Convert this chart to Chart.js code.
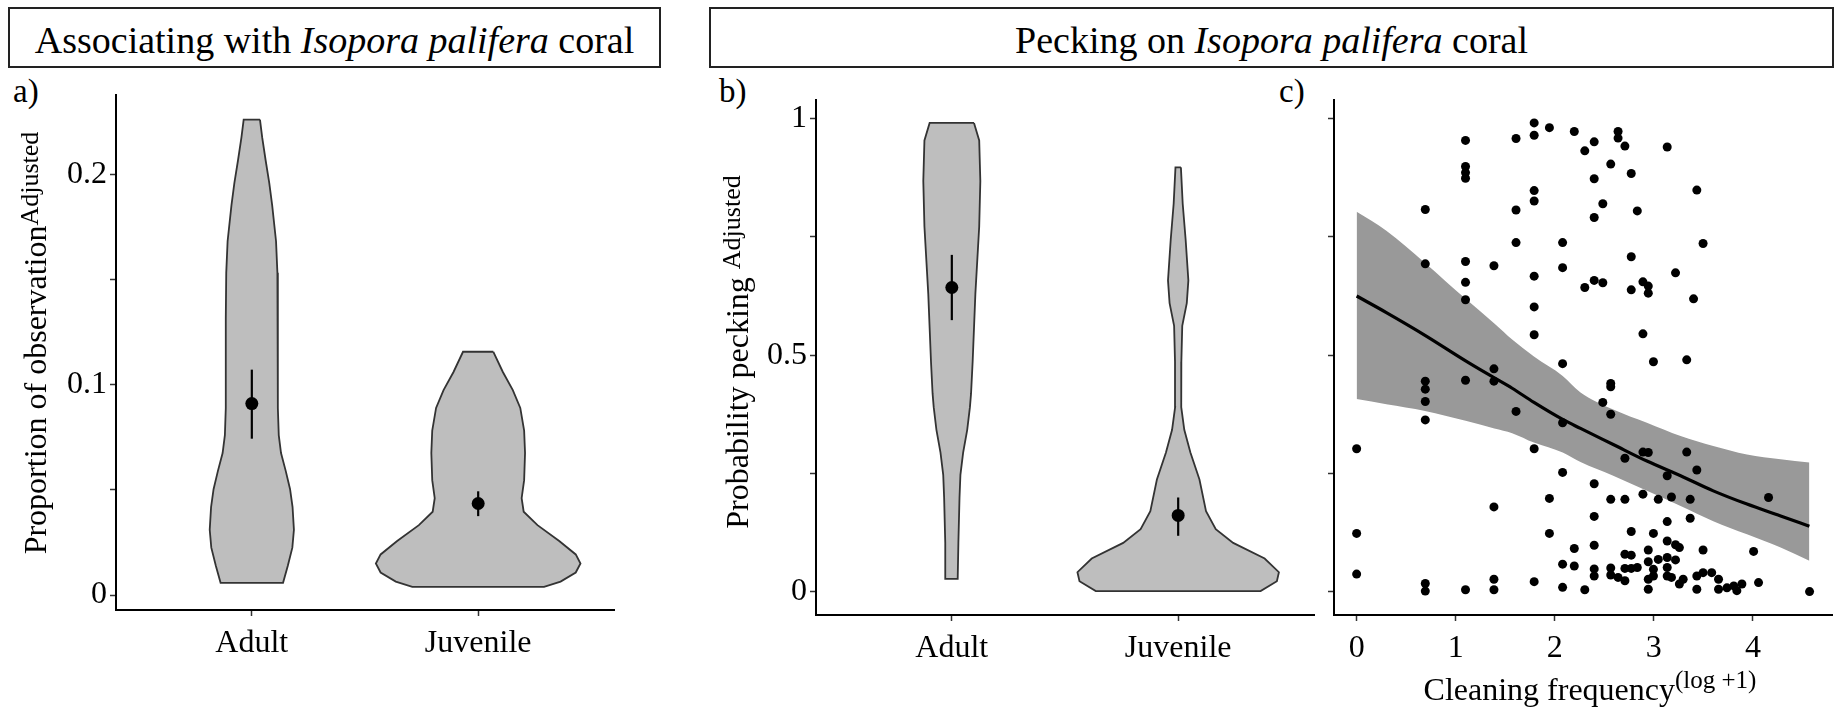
<!DOCTYPE html>
<html><head><meta charset="utf-8">
<script src="https://cdn.jsdelivr.net/npm/chart.js@4.4.1/dist/chart.umd.min.js"></script>
<style>
html,body{margin:0;padding:0;background:#fff;}
#wrap{position:relative;width:1840px;height:710px;overflow:hidden;font-family:"Liberation Serif","Times New Roman",serif;color:#000;}
canvas{position:absolute;top:0;}
.box{position:absolute;border:2px solid #222;box-sizing:border-box;}
.ttl{position:absolute;white-space:nowrap;text-align:center;font-size:38px;line-height:38px;}
.lab{position:absolute;font-size:33px;line-height:33px;white-space:nowrap;}
.yt{position:absolute;white-space:nowrap;text-align:center;font-size:32px;line-height:40px;height:40px;width:460px;transform:rotate(-90deg);}
.xt{position:absolute;white-space:nowrap;text-align:center;font-size:32px;line-height:40px;height:40px;}
.sup{font-size:26px;position:relative;top:-8px;}
.sup2{font-size:25px;position:relative;top:-12px;}
</style></head>
<body>
<div id="wrap">
  <div class="box" style="left:8px;top:7px;width:653px;height:61px;"></div>
  <div class="ttl" style="left:8px;top:21px;width:653px;">Associating with <i>Isopora palifera</i> coral</div>
  <div class="box" style="left:709px;top:7px;width:1125px;height:61px;"></div>
  <div class="ttl" style="left:709px;top:21px;width:1125px;">Pecking on <i>Isopora palifera</i> coral</div>
  <div class="lab" style="left:13px;top:75px;">a)</div>
  <div class="lab" style="left:719px;top:75px;">b)</div>
  <div class="lab" style="left:1279px;top:75px;">c)</div>
  <canvas id="ca" width="680" height="710" style="left:0px"></canvas>
  <canvas id="cb" width="650" height="710" style="left:680px"></canvas>
  <canvas id="cc" width="520" height="710" style="left:1320px"></canvas>
  <div class="yt" style="left:-195px;top:323px;">Proportion of observation<span class="sup">Adjusted</span></div>
  <div class="yt" style="left:507px;top:332px;">Probability pecking <span class="sup">Adjusted</span></div>
  <div class="xt" style="left:1390px;top:669px;width:400px;">Cleaning frequency<span class="sup2">(log +1)</span></div>
</div>
<script>
// ---------- shared ----------
const categories = ['Adult', 'Juvenile'];

// ---------- panel a: associating ----------
const aYTicks = [0, 0.05, 0.1, 0.15, 0.2];
const aYLabels = ['0', '', '0.1', '', '0.2'];
const aAdultY = [0.2259, 0.2173, 0.2066, 0.1959, 0.1852, 0.1681, 0.1531, 0.1317, 0.1103, 0.0889, 0.0760, 0.0675, 0.0589, 0.0503, 0.0418, 0.0310, 0.0225, 0.0139, 0.0058];
const aAdultHalfWidth = [0.036, 0.046, 0.061, 0.077, 0.090, 0.107, 0.113, 0.115, 0.115, 0.115, 0.119, 0.129, 0.150, 0.169, 0.180, 0.186, 0.179, 0.159, 0.138];
const aJuvY = [0.1156, 0.1060, 0.0974, 0.0889, 0.0782, 0.0675, 0.0546, 0.0460, 0.0396, 0.0332, 0.0257, 0.0193, 0.0150, 0.0107, 0.0064, 0.0039];
const aJuvHalfWidth = [0.067, 0.109, 0.153, 0.186, 0.203, 0.207, 0.203, 0.192, 0.201, 0.262, 0.358, 0.431, 0.452, 0.431, 0.364, 0.291];
const aMean = [0.0910, 0.0435];
const aLow = [0.0743, 0.0375];
const aHigh = [0.1071, 0.0493];

// ---------- panel b: pecking by age ----------
const bYTicks = [0, 0.25, 0.5, 0.75, 1];
const bYLabels = ['0', '', '0.5', '', '1'];
const bAdultY = [0.991, 0.954, 0.868, 0.772, 0.629, 0.486, 0.419, 0.390, 0.342, 0.294, 0.247, 0.199, 0.103, 0.027];
const bAdultHalfWidth = [0.098, 0.121, 0.126, 0.121, 0.104, 0.092, 0.085, 0.080, 0.068, 0.050, 0.038, 0.034, 0.029, 0.026];
const bJuvY = [0.897, 0.820, 0.744, 0.658, 0.610, 0.562, 0.486, 0.390, 0.342, 0.294, 0.237, 0.170, 0.132, 0.103, 0.070, 0.041, 0.022, 0.001];
const bJuvHalfWidth = [0.012, 0.020, 0.033, 0.045, 0.038, 0.018, 0.014, 0.0135, 0.027, 0.054, 0.094, 0.123, 0.166, 0.243, 0.382, 0.445, 0.436, 0.364];
const bMean = [0.643, 0.161];
const bLow = [0.574, 0.118];
const bHigh = [0.712, 0.199];

// ---------- panel c: pecking vs cleaning frequency ----------
const cXTicks = [0, 1, 2, 3, 4];
const cXLabels = ['0', '1', '2', '3', '4'];
const cYTicks = [0, 0.25, 0.5, 0.75, 1];
const cPointX = [0,0,0,
 0.693,0.693,0.693,0.693,0.693,0.693,0.693,0.693,
 1.099,1.099,1.099,1.099,1.099,1.099,1.099,1.099,1.099,
 1.386,1.386,1.386,1.386,1.386,1.386,
 1.609,1.609,1.609,1.609,
 1.792,1.792,1.792,1.792,1.792,1.792,1.792,1.792,1.792,
 1.946,1.946,1.946,
 2.079,2.079,2.079,2.079,2.079,2.079,2.079,
 2.197,2.197,2.197,
 2.303,2.303,2.303,
 2.398,2.398,2.398,2.398,2.398,2.398,2.398,2.398,2.398,
 2.485,2.485,2.485,
 2.565,2.565,2.565,2.565,2.565,2.565,2.565,
 2.639,2.639,2.639,
 2.708,2.708,2.708,2.708,2.708,2.708,
 2.772,2.772,2.772,2.772,2.772,2.772,
 2.833,2.833,
 2.890,2.890,2.890,2.890,
 2.944,2.944,2.944,2.944,2.944,2.944,2.944,
 2.996,2.996,2.996,2.996,
 3.045,3.045,
 3.135,3.135,3.135,3.135,3.135,3.135,3.135,
 3.178,3.178,
 3.219,3.219,3.219,
 3.258,3.258,
 3.296,
 3.332,3.332,
 3.367,3.367,
 3.401,
 3.434,3.434,3.434,3.434,
 3.497,3.497,3.497,
 3.584,
 3.653,3.653,
 3.738,3.807,3.838,3.889,
 4.007,4.057,4.158,4.572];
const cPointY = [0.302,0.123,0.037,
 0.808,0.693,0.445,0.428,0.402,0.363,0.017,0.001,
 0.954,0.899,0.886,0.874,0.698,0.654,0.617,0.447,0.004,
 0.689,0.471,0.445,0.179,0.026,0.004,
 0.958,0.807,0.738,0.381,
 0.991,0.965,0.848,0.826,0.667,0.602,0.543,0.302,0.021,
 0.981,0.197,0.123,
 0.738,0.685,0.482,0.357,0.252,0.058,0.009,
 0.973,0.091,0.054,
 0.932,0.643,0.004,
 0.951,0.873,0.791,0.658,0.228,0.159,0.098,0.048,0.033,
 0.820,0.653,0.400,
 0.904,0.440,0.433,0.375,0.195,0.050,0.035,
 0.973,0.959,0.030,
 0.942,0.282,0.195,0.079,0.049,0.023,
 0.884,0.708,0.638,0.127,0.077,0.049,
 0.805,0.051,
 0.655,0.545,0.295,0.206,
 0.646,0.631,0.294,0.088,0.063,0.026,0.005,
 0.486,0.123,0.047,0.033,
 0.195,0.068,
 0.940,0.245,0.148,0.107,0.072,0.051,0.033,
 0.200,0.030,
 0.674,0.099,0.067,
 0.093,0.016,
 0.026,
 0.490,0.295,
 0.195,0.155,
 0.619,
 0.849,0.257,0.033,0.005,
 0.736,0.088,0.040,
 0.040,
 0.026,0.005,
 0.008,0.012,0.002,0.016,
 0.085,0.019,0.199,0.000];
const cFitX    = [0, 0.30, 0.69, 1.10, 1.39, 1.57, 1.79, 2.08, 2.26, 2.59, 2.93, 3.27, 3.60, 3.94, 4.28, 4.57];
const cFitY    = [0.625, 0.590, 0.542, 0.488, 0.452, 0.430, 0.400, 0.364, 0.345, 0.311, 0.276, 0.245, 0.213, 0.185, 0.160, 0.138];
const cFitHigh = [0.803, 0.763, 0.695, 0.619, 0.567, 0.533, 0.497, 0.456, 0.421, 0.385, 0.357, 0.329, 0.308, 0.290, 0.280, 0.273];
const cFitLow  = [0.407, 0.396, 0.382, 0.361, 0.345, 0.335, 0.315, 0.294, 0.274, 0.245, 0.213, 0.181, 0.149, 0.121, 0.093, 0.065];

// ---------- styles ----------
const FONT = {family: 'Liberation Serif', size: 32};
const VIOLIN_FILL = '#bebebe';
const VIOLIN_LINE = '#333333';
const CLEAR = 'rgba(0,0,0,0)';
Chart.defaults.font.family = 'Liberation Serif';

function scaleCfg(min, max, ticksArr, labelsArr, fitFn, pad) {
  return {
    type: 'linear', min: min, max: max,
    afterBuildTicks: s => { s.ticks = ticksArr.map(v => ({value: v})); },
    afterFit: fitFn,
    grid: {display: true, drawOnChartArea: false, drawTicks: true, tickLength: 6, tickWidth: 1.5, tickColor: '#333'},
    border: {display: true, color: '#000', width: 2},
    ticks: {autoSkip: false, maxRotation: 0, minRotation: 0, padding: pad, color: '#000', font: FONT,
            callback: (v, i) => labelsArr[i]}
  };
}

function violinSet(center, ys, hws) {
  const right = ys.map((y, i) => ({x: center + hws[i], y: y}));
  const left = ys.map((y, i) => ({x: center - hws[i], y: y}));
  const outline = right.concat(left.slice().reverse(), [right[0]]);
  return {data: outline, showLine: true, borderColor: VIOLIN_LINE, borderWidth: 1.8, pointRadius: 0,
          fill: 'shape', backgroundColor: VIOLIN_FILL, order: 5};
}

function meanSets(means, lows, highs) {
  const sets = [];
  means.forEach((m, i) => {
    sets.push({data: [{x: i + 1, y: lows[i]}, {x: i + 1, y: highs[i]}], showLine: true,
               borderColor: '#000', borderWidth: 2.2, pointRadius: 0, fill: false, order: 2});
  });
  sets.push({data: means.map((m, i) => ({x: i + 1, y: m})), showLine: false,
             pointRadius: 6.5, pointBackgroundColor: '#000', pointBorderWidth: 0, order: 1});
  return sets;
}

function violinChart(id, yMin, yMax, yTicks, yLabels, violins, means, lows, highs, box) {
  const datasets = violins.map(v => violinSet(v[0], v[1], v[2]));
  datasets.push(...meanSets(means, lows, highs));
  return new Chart(document.getElementById(id), {
    type: 'scatter',
    data: {datasets: datasets},
    options: {
      indexAxis: 'y',
      responsive: false, animation: false, devicePixelRatio: 1,
      layout: {padding: {left: 0, top: box.top, right: box.right, bottom: 0}},
      plugins: {legend: {display: false}, tooltip: {enabled: false}},
      scales: {
        x: scaleCfg(0.4, 2.6, [1, 2], categories, s => { s.height = box.xh; }, 8),
        y: scaleCfg(yMin, yMax, yTicks, yLabels, s => { s.width = box.yw; }, 3)
      }
    }
  });
}

violinChart('ca', -0.0071, 0.2376, aYTicks, aYLabels,
  [[1, aAdultY, aAdultHalfWidth], [2, aJuvY, aJuvHalfWidth]], aMean, aLow, aHigh,
  {top: 95, right: 66, xh: 100, yw: 116});

violinChart('cb', -0.0495, 1.0395, bYTicks, bYLabels,
  [[1, bAdultY, bAdultHalfWidth], [2, bJuvY, bJuvHalfWidth]], bMean, bLow, bHigh,
  {top: 100, right: 16, xh: 95, yw: 136});

// panel c
new Chart(document.getElementById('cc'), {
  type: 'scatter',
  data: {datasets: [
    {data: cFitX.map((x, i) => ({x: x, y: cFitLow[i]})), showLine: true, borderColor: CLEAR, pointRadius: 0, fill: false, cubicInterpolationMode: 'monotone', order: 6},
    {data: cFitX.map((x, i) => ({x: x, y: cFitHigh[i]})), showLine: true, borderColor: CLEAR, pointRadius: 0, fill: '-1', backgroundColor: '#999999', cubicInterpolationMode: 'monotone', order: 6},
    {data: cPointX.map((x, i) => ({x: x, y: cPointY[i]})), showLine: false, pointRadius: 4.5, pointBackgroundColor: '#000', pointBorderWidth: 0, order: 3},
    {data: cFitX.map((x, i) => ({x: x, y: cFitY[i]})), showLine: true, borderColor: '#000', borderWidth: 3.2, pointRadius: 0, fill: false, cubicInterpolationMode: 'monotone', order: 1}
  ]},
  options: {
    responsive: false, animation: false, devicePixelRatio: 1,
    layout: {padding: {left: 0, top: 100, right: 8, bottom: 0}},
    plugins: {legend: {display: false}, tooltip: {enabled: false}},
    scales: {
      x: scaleCfg(-0.2285, 4.7985, cXTicks, cXLabels, s => { s.height = 95; }, 8),
      y: scaleCfg(-0.0495, 1.0395, cYTicks, ['', '', '', '', ''], s => { s.width = 14; }, 0)
    }
  }
});
</script>
</body></html>
